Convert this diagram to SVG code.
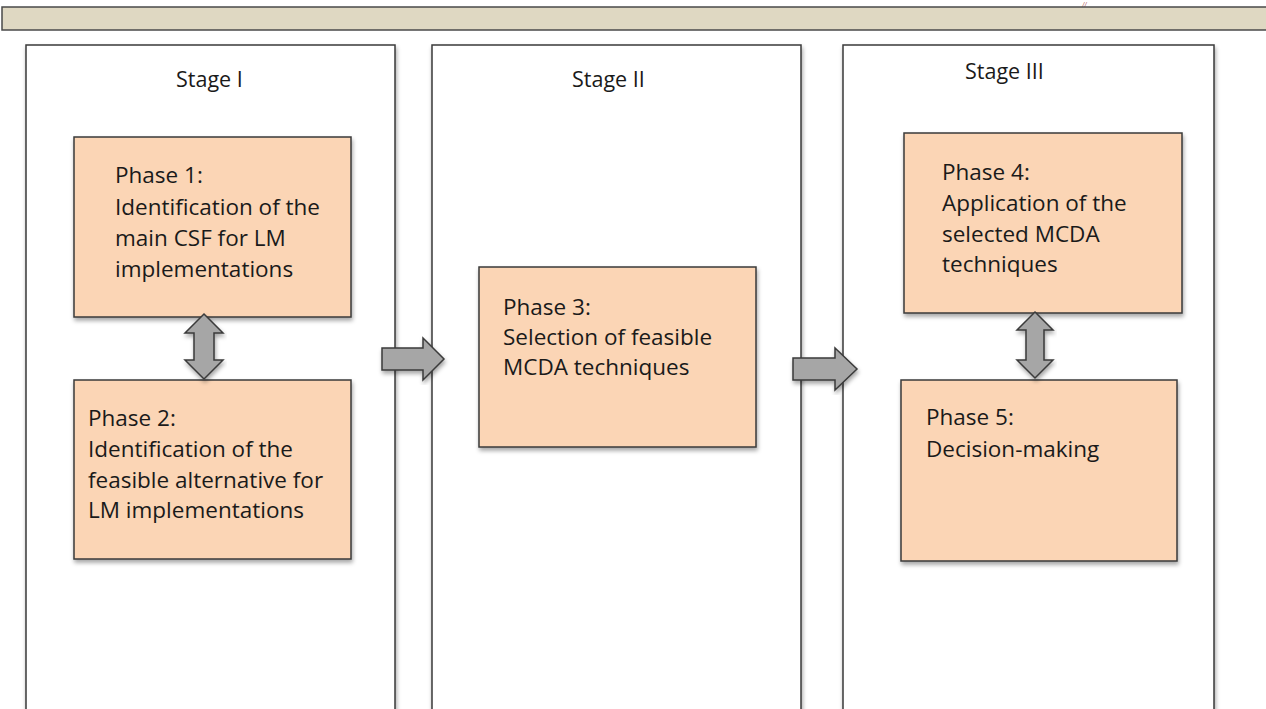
<svg xmlns="http://www.w3.org/2000/svg" width="1266" height="709" viewBox="0 0 1266 709">
<style>
.band{fill:#DFD8C2;stroke:#4a4a4a;stroke-width:1.5}
.panel{fill:#fff;stroke:#3a3a3a;stroke-width:1.5}
.box{fill:#FBD5B5;stroke:#3a3a3a;stroke-width:1.5}
.arrow{fill:#A6A6A6;stroke:#3a3a3a;stroke-width:1.5;stroke-linejoin:miter}
.t{font-family:"Open Sans","Noto Sans",sans-serif;font-size:22.5px;fill:#1a1a1a}
.st{font-family:"Open Sans","Noto Sans",sans-serif;font-size:21.5px;fill:#1a1a1a}
</style>
<defs>
<filter id="sh" x="-10%" y="-10%" width="120%" height="120%">
<feDropShadow dx="1" dy="3" stdDeviation="2" flood-color="#000" flood-opacity="0.35"/>
</filter>
</defs>
<rect width="1266" height="709" fill="#fff"/>
<text x="1082" y="7.5" font-family="Liberation Serif,serif" font-style="italic" font-size="8" fill="#a0302a">//</text>
<rect class="band" x="2" y="7" width="1270" height="23"/>
<g id="stage1">
<rect class="panel" x="26" y="45" width="369" height="680" filter="url(#sh)"/>
<text class="st" x="176" y="87">Stage I</text>
</g>
<g id="stage2">
<rect class="panel" x="432" y="45" width="369" height="680" filter="url(#sh)"/>
<text class="st" x="572" y="87">Stage II</text>
</g>
<g id="stage3">
<rect class="panel" x="843" y="45" width="371" height="680" filter="url(#sh)"/>
<text class="st" x="965" y="79">Stage III</text>
</g>
<g id="phase1">
<rect class="box" x="74" y="137" width="277" height="180" filter="url(#sh)"/>
<text class="t" x="115" y="183">Phase 1:</text>
<text class="t" x="115" y="215">Identification of the</text>
<text class="t" x="115" y="246">main CSF for LM</text>
<text class="t" x="115" y="277">implementations</text>
</g>
<g id="phase2">
<rect class="box" x="74" y="380" width="277" height="179" filter="url(#sh)"/>
<text class="t" x="88" y="426">Phase 2:</text>
<text class="t" x="88" y="457">Identification of the</text>
<text class="t" x="88" y="488">feasible alternative for</text>
<text class="t" x="88" y="518">LM implementations</text>
</g>
<g id="phase3">
<rect class="box" x="479" y="267" width="277" height="180" filter="url(#sh)"/>
<text class="t" x="503" y="315">Phase 3:</text>
<text class="t" x="503" y="345">Selection of feasible</text>
<text class="t" x="503" y="375">MCDA techniques</text>
</g>
<g id="phase4">
<rect class="box" x="904" y="133" width="278" height="180" filter="url(#sh)"/>
<text class="t" x="942" y="180">Phase 4:</text>
<text class="t" x="942" y="211">Application of the</text>
<text class="t" x="942" y="242">selected MCDA</text>
<text class="t" x="942" y="272">techniques</text>
</g>
<g id="phase5">
<rect class="box" x="901" y="380" width="276" height="181" filter="url(#sh)"/>
<text class="t" x="926" y="425">Phase 5:</text>
<text class="t" x="926" y="457">Decision-making</text>
</g>
<g id="connectors">
<path class="arrow" filter="url(#sh)" d="M204,314 L223,333 L214,333 L214,360 L223,360 L204,379 L185,360 L194,360 L194,333 L185,333 Z"/>
<path class="arrow" filter="url(#sh)" d="M1035,312 L1053,330 L1044,330 L1044,360 L1053,360 L1035,378 L1017,360 L1026,360 L1026,330 L1017,330 Z"/>
<path class="arrow" filter="url(#sh)" d="M382,348 L423,348 L423,338 L444,359 L423,380 L423,370 L382,370 Z"/>
<path class="arrow" filter="url(#sh)" d="M793,358 L835,358 L835,348 L857,369 L835,390 L835,380 L793,380 Z"/>
</g>
</svg>
